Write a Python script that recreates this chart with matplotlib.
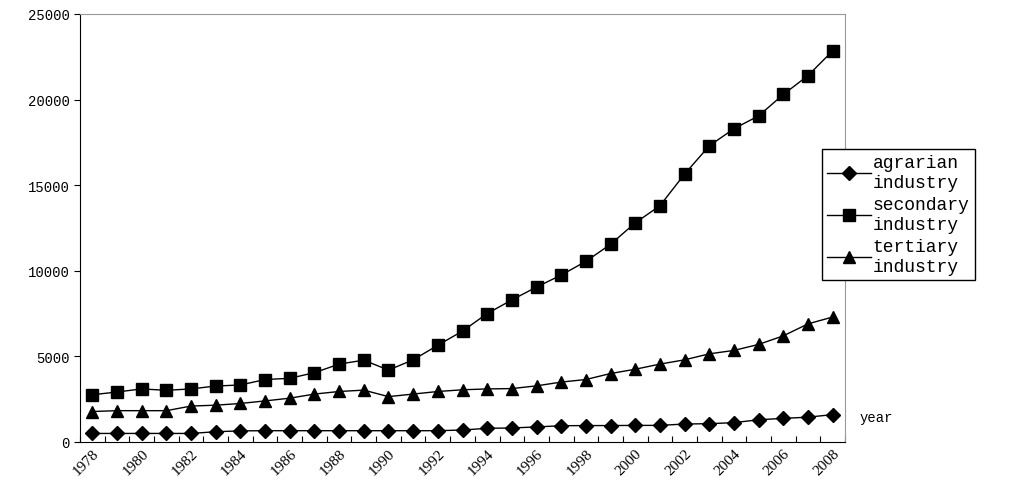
import matplotlib
matplotlib.use("Agg")
import matplotlib.pyplot as plt

years = list(range(1978, 2009))
agrarian = [500, 500, 500, 500, 500, 600, 650, 660, 660, 660, 660, 660, 660, 660, 660, 700,
            800, 820, 880, 950, 960, 960, 970, 970, 1050, 1070, 1130, 1300, 1380, 1450, 1600]
secondary = [2760, 2920, 3100, 3020, 3100, 3270, 3330, 3650, 3720, 4050, 4550, 4780, 4200, 4800,
             5650, 6480, 7500, 8300, 9050, 9750, 10550, 11550, 12800, 13800, 15650, 17300, 18300,
             19050, 20300, 21400, 22850]
tertiary = [1780, 1830, 1830, 1830, 2100, 2150, 2250, 2400, 2560, 2800, 2950, 3030, 2650, 2800,
            2950, 3050, 3100, 3120, 3280, 3500, 3650, 4000, 4250, 4550, 4800, 5150, 5350, 5700,
            6200, 6900, 7300]
labels = ["agrarian\nindustry", "secondary\nindustry", "tertiary\nindustry"]

plt.rcParams['font.family'] = ['Liberation Mono', 'DejaVu Sans Mono']
fig = plt.figure(figsize=(10.22, 5.02), dpi=100)
ax = fig.add_axes([80/1022, 1-443/502, 765/1022, 428/502])
x = list(range(len(years)))
ax.plot(x, agrarian, color='black', marker='D', ms=7, lw=1, label=labels[0])
ax.plot(x, secondary, color='black', marker='s', ms=8, lw=1, label=labels[1])
ax.plot(x, tertiary, color='black', marker='^', ms=8, lw=1, label=labels[2])
ax.set_xlim(-0.5, len(years)-0.5)
ax.set_ylim(0, 25000)
ax.set_yticks(range(0, 25001, 5000))
ax.set_xticks([i - 0.5 for i in range(len(years)+1)], minor=False, labels=[])
ax.set_xticks(x[::2], minor=True, labels=[str(y) for y in years[::2]])
ax.tick_params(axis='x', which='minor', length=0, labelrotation=45, labelsize=11)
ax.tick_params(axis='x', which='major', direction='in', length=4)
for t in ax.get_xticklabels(minor=True):
    t.set_ha('right'); t.set_rotation_mode('anchor'); t.set_family('Liberation Serif')
ax.tick_params(axis='y', direction='out', length=4, labelsize=10)
for s in ['top', 'right']:
    ax.spines[s].set_color('#999999')
ax.legend(loc='upper left', bbox_to_anchor=(822/1022, 1-150/502), bbox_transform=fig.transFigure,
          fancybox=False, edgecolor='black', framealpha=1, fontsize=13, handlelength=2.4,
          borderaxespad=0, labelspacing=0.3, borderpad=0.3, handletextpad=0.1)
fig.text(860/1022, 1-418/502, "year", fontsize=10, va='center')
fig.savefig("out.png", dpi=100)
